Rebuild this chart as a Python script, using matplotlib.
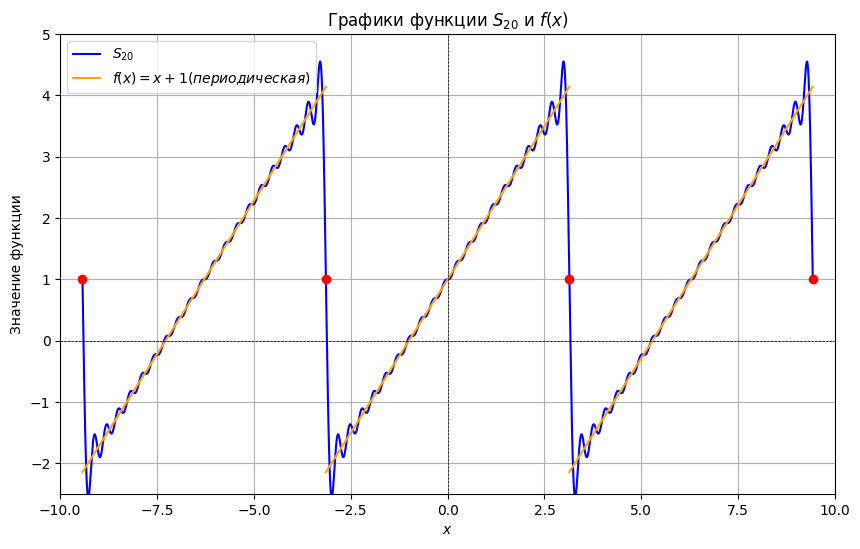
import numpy as np
import matplotlib.pyplot as plt

# partial Fourier sum of f(x) = x + 1 on (-pi, pi), extended periodically
N_TERMS = 20
period_shifts = [-2, 0, 2]          # multiples of pi for each period centre
jump_points = [-3, -1, 1, 3]        # multiples of pi where S_N = 1
jump_value = 1.0

x = np.linspace(-3 * np.pi, 3 * np.pi, 3000)
s = np.ones_like(x)
for n in range(1, N_TERMS + 1):
    s += 2 * (-1) ** (n + 1) * np.sin(n * x) / n

fig = plt.figure(figsize=(8.6, 5.49), dpi=100)
ax = fig.add_axes([0.07, 0.10, 0.901, 0.838])

ax.plot(x, s, color='blue', label='$S_{20}$')
for i, k in enumerate(period_shifts):
    xs = np.linspace(-np.pi, np.pi, 200)
    ax.plot(xs + k * np.pi, xs + 1, color='orange',
            label='$f(x) = x + 1 (периодическая)$' if i == 0 else None)
ax.scatter(np.array(jump_points) * np.pi, [jump_value] * len(jump_points), color='red', zorder=5)

ax.axhline(0, color='black', linestyle='--', linewidth=0.5)
ax.axvline(0, color='black', linestyle='--', linewidth=0.5)
ax.set_xlim(-10, 10)
ax.set_ylim(-2.5, 5)
ax.set_title('Графики функции $S_{20}$ и $f(x)$')
ax.set_xlabel('$x$')
ax.set_ylabel('Значение функции')
ax.grid(True)
ax.legend(loc='upper left')

fig.savefig('out.png')
